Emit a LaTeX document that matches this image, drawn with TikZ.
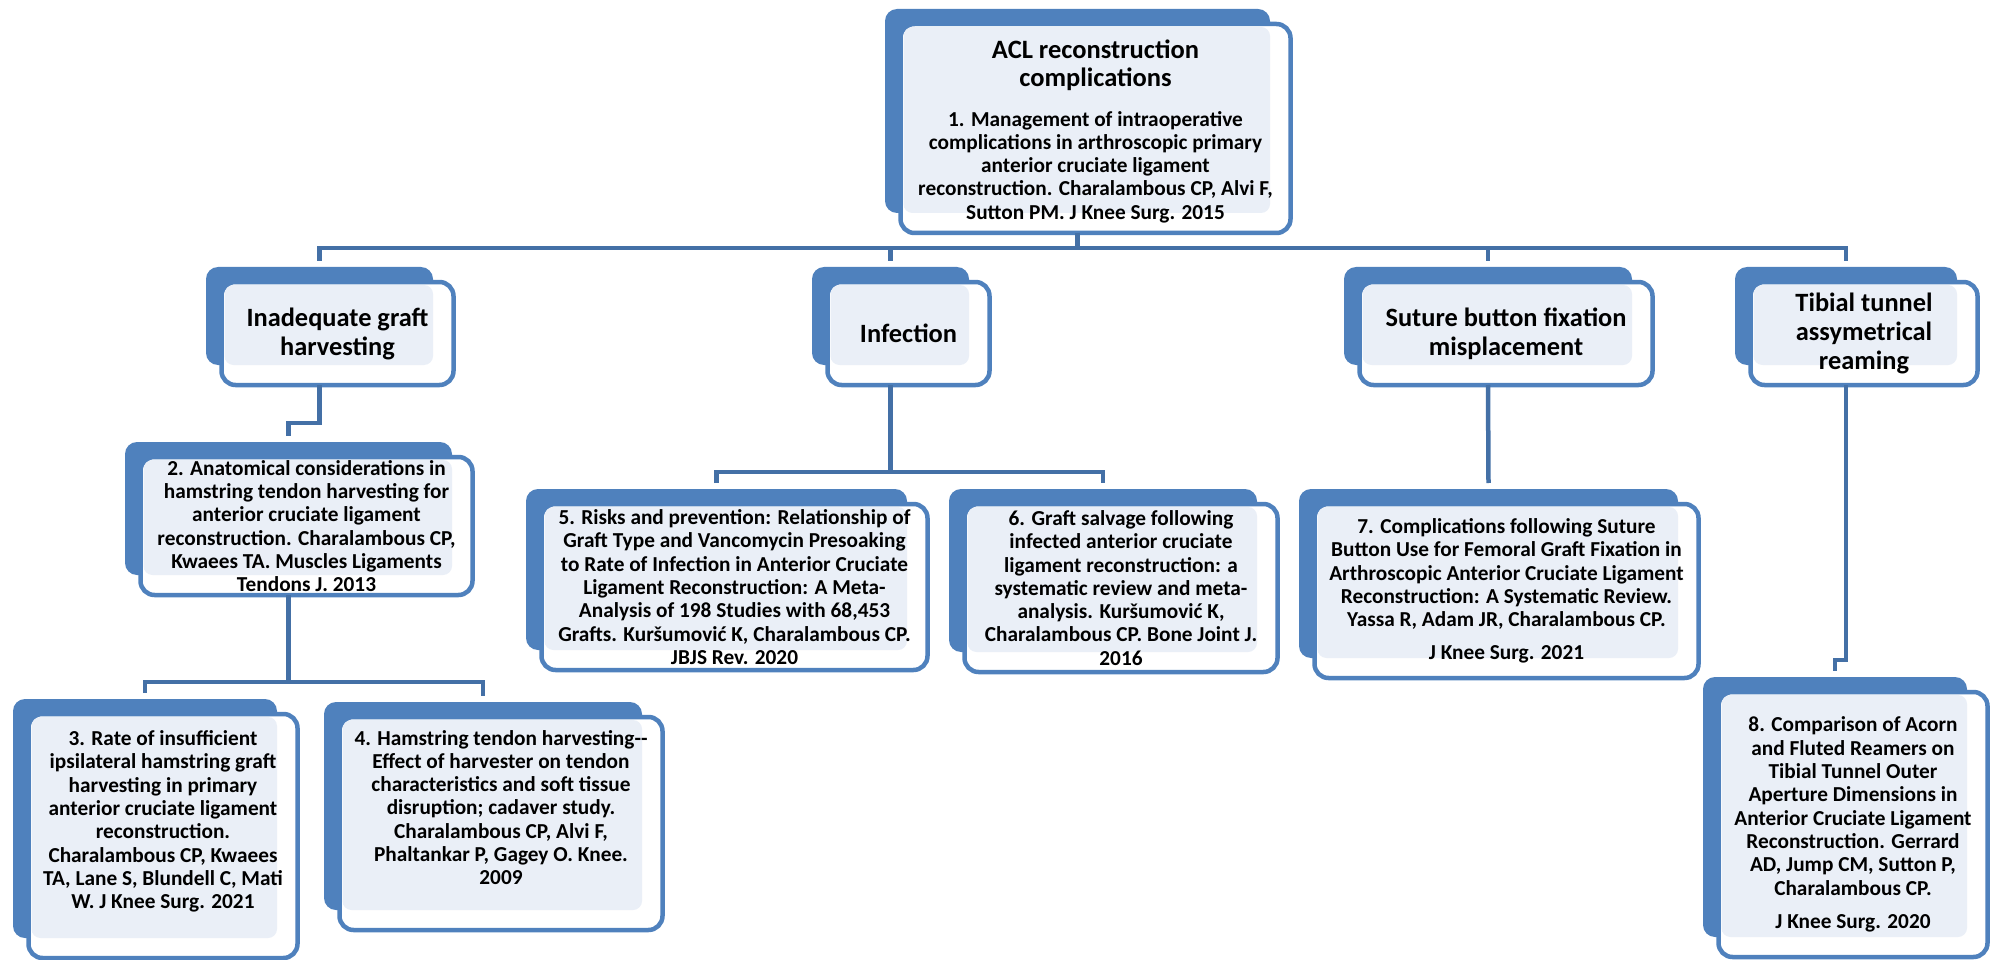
\documentclass[tikz,border=0pt]{standalone}
\usepackage{fontspec}
\setmainfont{Carlito}
\usepackage{tikz}
\usetikzlibrary{calc}
\definecolor{BoxBlue}{RGB}{79,129,189}
\definecolor{SoftBlue}{RGB}{234,239,247}
\definecolor{LineBlue}{RGB}{68,112,166}
\tikzset{
  backbox/.style={fill=BoxBlue, rounded corners=12pt, inner sep=0pt, outer sep=0pt},
  frontbox/.style={draw=BoxBlue, line width=4.5pt, fill=white, rounded corners=14pt,
    inner sep=0pt, outer sep=0pt},
  softfill/.style={fill=SoftBlue, rounded corners=9pt},
  conn/.style={draw=LineBlue, line width=4.5pt},
  titletxt/.style={align=center, inner sep=0pt, font=\fontsize{26.5}{28}\selectfont\bfseries},
  headtxt/.style={align=center, inner sep=0pt, font=\fontsize{26.4}{29}\selectfont\bfseries},
  bodytxt/.style={align=center, inner sep=0pt, font=\fontsize{21.3}{23.3}\selectfont\bfseries},
}
% one card: name, back box corners (x1,y1,x2,y2); front frame sits lower right
\newcommand{\papercard}[5]{%
  \node[backbox, minimum width={#4-#2}, minimum height={#5-#3}] (#1b)
    at ({(#2+#4)/2},{(#3+#5)/2}) {};
  \node[frontbox, minimum width={#4-#2+5}, minimum height={#5-#3+5}] (#1)
    at ({(#2+#4)/2+18},{(#3+#5)/2+17.5}) {};
  \fill[softfill] ([shift={(3,3)}]#1.north west) rectangle (#1b.south east);
}

\begin{document}
\begin{tikzpicture}[x=1pt, y=-1pt]
  \useasboundingbox (0,0) rectangle (1995,960);

  % cards
  \papercard{top}{885}{9}{1270}{213}
  \papercard{h1}{206}{267}{433}{365}
  \papercard{h2}{812}{267}{969}{365}
  \papercard{h3}{1344}{267}{1632}{365}
  \papercard{h4}{1735}{267}{1957}{365}
  \papercard{b2}{125}{442}{452}{575}
  \papercard{b3}{13}{699}{277}{938}
  \papercard{b4}{324}{702}{642}{910}
  \papercard{b5}{526}{489}{907}{650}
  \papercard{b6}{949}{489}{1257}{652}
  \papercard{b7}{1299}{489}{1678}{658}
  \papercard{b8}{1703}{677}{1967}{937}

  % texts
  \node[titletxt] (toptitle) at ([yshift=63.5pt]top) {ACL reconstruction\\complications};
  \node[bodytxt] (topt) at ([yshift=-38.5pt]top) {1. Management of intraoperative\\
    complications in arthroscopic primary\\anterior cruciate ligament\\
    reconstruction. Charalambous CP, Alvi F,\\Sutton PM. J Knee Surg. 2015};
  \node[headtxt] (h1t) at (h1) {Inadequate graft\\harvesting};
  \node[headtxt] (h2t) at (h2) {Infection};
  \node[headtxt] (h3t) at (h3) {Suture button fixation\\misplacement};
  \node[headtxt] (h4t) at (h4) {Tibial tunnel\\assymetrical\\reaming};
  \node[bodytxt] (b2t) at (b2) {2. Anatomical considerations in\\
    hamstring tendon harvesting for\\anterior cruciate ligament\\
    reconstruction. Charalambous CP,\\Kwaees TA. Muscles Ligaments\\Tendons J. 2013};
  \node[bodytxt] (b3t) at ([yshift=14.5pt]b3) {3. Rate of insufficient\\
    ipsilateral hamstring graft\\harvesting in primary\\anterior cruciate ligament\\
    reconstruction.\\Charalambous CP, Kwaees\\TA, Lane S, Blundell C, Mati\\
    W. J Knee Surg. 2021};
  \node[bodytxt] (b4t) at ([yshift=16pt]b4) {4. Hamstring tendon harvesting-{}-\\
    Effect of harvester on tendon\\characteristics and soft tissue\\
    disruption; cadaver study.\\Charalambous CP, Alvi F,\\
    Phaltankar P, Gagey O. Knee.\\2009};
  \node[bodytxt] (b5t) at (b5) {5. Risks and prevention: Relationship of\\
    Graft Type and Vancomycin Presoaking\\to Rate of Infection in Anterior Cruciate\\
    Ligament Reconstruction: A Meta-\\Analysis of 198 Studies with 68,453\\
    Grafts. Kuršumović K, Charalambous CP.\\JBJS Rev. 2020};
  \node[bodytxt] (b6t) at (b6) {6. Graft salvage following\\infected anterior cruciate\\
    ligament reconstruction: a\\systematic review and meta-\\analysis. Kuršumović K,\\
    Charalambous CP. Bone Joint J.\\2016};
  \node[bodytxt] (b7t) at (b7) {7. Complications following Suture\\
    Button Use for Femoral Graft Fixation in\\Arthroscopic Anterior Cruciate Ligament\\
    Reconstruction: A Systematic Review.\\Yassa R, Adam JR, Charalambous CP.\\[10pt]
    J Knee Surg. 2021};
  \node[bodytxt] (b8t) at (b8) {8. Comparison of Acorn\\and Fluted Reamers on\\
    Tibial Tunnel Outer\\Aperture Dimensions in\\Anterior Cruciate Ligament\\
    Reconstruction. Gerrard\\AD, Jump CM, Sutton P,\\Charalambous CP.\\[10pt]
    J Knee Surg. 2020};

  % connector levels
  \coordinate (lv1) at (0,248);
  \coordinate (lv2) at (0,423);
  \coordinate (lv3) at (0,682);
  \coordinate (lv4) at (0,472);
  \coordinate (lv6) at (0,660);

  % connectors
  \draw[conn] (topb.south |- top.south) -- (topb |- lv1);
  \draw[conn] ([yshift=6pt]h1b.north) -- (h1b |- lv1) -- (h4b |- lv1) -- ([yshift=6pt]h4b.north);
  \draw[conn] (h2b |- lv1) -- ([yshift=6pt]h2b.north);
  \draw[conn] (h3b |- lv1) -- ([yshift=6pt]h3b.north);
  \draw[conn] (h1b.south |- h1.south) -- (h1b |- lv2) -- (b2b |- lv2) -- ([yshift=6pt]b2b.north);
  \draw[conn] (b2b.south |- b2.south) -- (b2b |- lv3);
  \draw[conn] ([yshift=6pt]b3b.north) -- (b3b |- lv3) -- (b4b |- lv3) -- ([yshift=6pt]b4b.north);
  \draw[conn] (h2b.south |- h2.south) -- (h2b |- lv4);
  \draw[conn] ([yshift=6pt]b5b.north) -- (b5b |- lv4) -- (b6b |- lv4) -- ([yshift=6pt]b6b.north);
  \draw[conn] (h3b.south |- h3.south) -- ([yshift=6pt]b7b.north);
  \draw[conn] (h4b.south |- h4.south) -- (h4b |- lv6) -- (b8b |- lv6) -- ([yshift=6pt]b8b.north);
\end{tikzpicture}
\end{document}
